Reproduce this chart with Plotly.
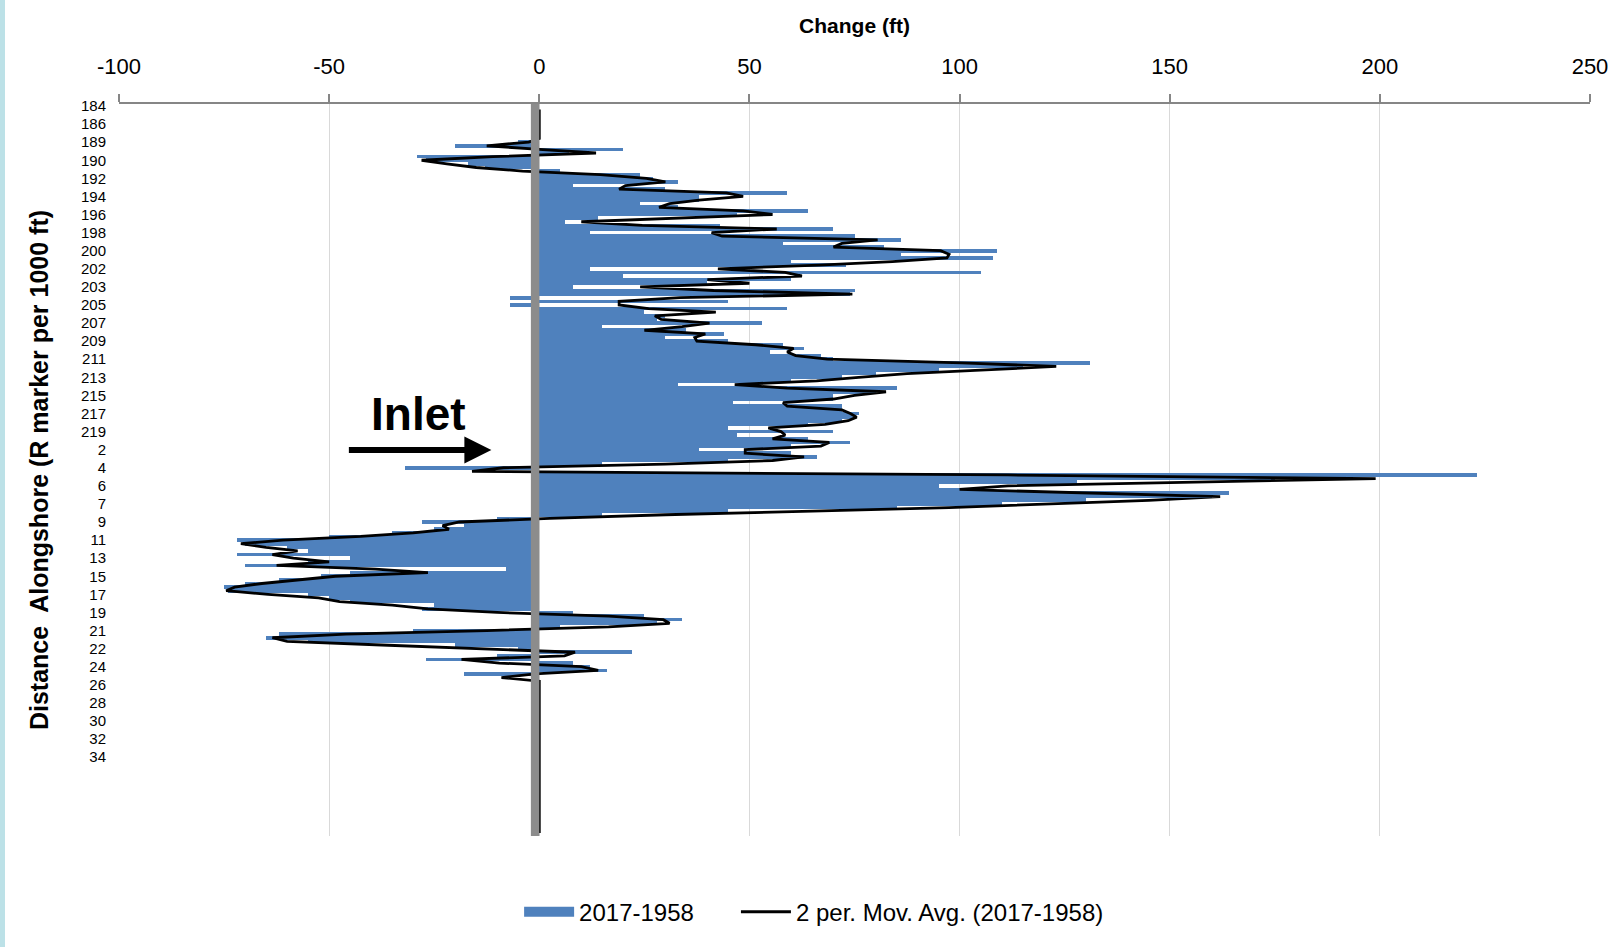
import plotly.graph_objects as go
import pandas as pd

# ---- data ----
tick_labels = ["184", "186", "189", "190", "192", "194", "196", "198", "200", "202",
               "203", "205", "207", "209", "211", "213", "215", "217", "219", "2",
               "4", "6", "7", "9", "11", "13", "15", "17", "19", "21",
               "22", "24", "26", "28", "30", "32", "34"]
tick_rows = list(range(0, 181, 5))

x_tick_vals = [-100, -50, 0, 50, 100, 150, 200, 250]
x_tick_text = ["-100", "-50", "0", "50", "100", "150", "200", "250"]

lead_zero_rows = 10
tail_zero_rows = 44
change_ft = [
    -5, -20, 20, 7, -29, -27, -17, -13, 5, 24,            # rows 10-19
    27, 33, 8, 30, 59, 38, 38, 24, 33, 64,                # rows 20-29
    47, 14, 6, 43, 70, 12, 75, 86, 58, 82,                # rows 30-39
    109, 86, 108, 60, 73, 12, 105, 20, 60, 40,            # rows 40-49
    8, 75, 74, -7, 45, -7, 59, 25, 30, 28,                # rows 50-59
    53, 15, 35, 44, 30, 45, 58, 63, 55, 67,               # rows 60-69
    70, 131, 115, 95, 80, 72, 60, 33, 85, 80,             # rows 70-79
    70, 70, 46, 72, 72, 76, 75, 72, 64, 45,               # rows 80-89
    70, 47, 64, 74, 60, 38, 60, 66, 45, 15,               # rows 90-99
    -32, 0, 223, 175, 128, 95, 105, 164, 160, 130,        # rows 100-109
    110, 85, 45, 15, -10, -28, -18, -25, -35, -50,        # rows 110-119
    -72, -70, -60, -55, -72, -45, -55, -70, -8, -45,      # rows 120-129
    -52, -62, -70, -75, -74, -55, -50, -45, -25, -28,     # rows 130-139
    8, 25, 34, 28, 5, -30, -62, -65, -55, -20,            # rows 140-149
    -5, 22, -10, -27, 8, 12, 16, -18,                     # rows 150-157
]

values = [0] * lead_zero_rows + change_ft + [0] * tail_zero_rows
rows = list(range(len(values)))
mov_avg = pd.Series(values, dtype=float).rolling(2).mean()

BLUE = "#4F81BD"
FONT = "Liberation Sans, Arial, sans-serif"

fig = go.Figure()
fig.add_trace(go.Bar(
    x=values, y=rows, orientation="h", width=1,
    marker=dict(color=BLUE, line=dict(width=0)),
    name="2017-1958", showlegend=False, hoverinfo="x+y",
))
# legend proxy for the bar series (wide blue box)
fig.add_trace(go.Scatter(
    x=[None], y=[None], mode="lines", name="2017-1958",
    line=dict(color=BLUE, width=14), showlegend=True, legend="legend",
))
fig.add_trace(go.Scatter(
    x=mov_avg, y=rows, mode="lines", name="2 per. Mov. Avg. (2017-1958)",
    line=dict(color="black", width=2.8), legend="legend2",
))

legend_common = dict(
    orientation="h", xanchor="left", y=-0.104, yanchor="middle",
    font=dict(size=24, family=FONT), itemwidth=50, bgcolor="rgba(0,0,0,0)",
)

fig.update_layout(
    width=1622, height=947,
    margin=dict(l=119, r=32, t=104, b=111),
    paper_bgcolor="white", plot_bgcolor="white",
    bargap=0,
    font=dict(family=FONT, color="black"),
    showlegend=True,
    legend=dict(x=0.272, **legend_common),
    legend2=dict(x=0.4194, **legend_common),
    xaxis=dict(
        side="top", range=[-100, 250], tickmode="array",
        tickvals=x_tick_vals, ticktext=x_tick_text,
        showgrid=True, gridcolor="#D9D9D9", gridwidth=1,
        showline=True, linecolor="#868686", linewidth=2,
        ticks="outside", ticklen=8, tickcolor="#868686", tickwidth=1.5,
        tickfont=dict(size=22, family=FONT), zeroline=False,
        ticklabelstandoff=11,
        title=dict(text="<b>Change (ft)</b>", font=dict(size=21, family=FONT), standoff=15),
        automargin=False,
    ),
    yaxis=dict(
        range=[201.8, -0.55], tickmode="array", tickvals=tick_rows, ticktext=tick_labels,
        tickfont=dict(size=15, family=FONT), showgrid=False, zeroline=False,
        showline=False, ticks="", ticklabelstandoff=12,
        title=dict(text="<b>Distance  Alongshore (R marker per 1000 ft)</b>",
                   font=dict(size=25, family=FONT), standoff=25),
        automargin=False,
    ),
    shapes=[
        # thick grey vertical axis line at zero
        dict(type="rect", xref="x", yref="paper", x0=-2, x1=0, y0=0, y1=1,
             fillcolor="#8C8C8C", line=dict(width=0), layer="above"),
        # light-blue strip at the left edge of the page
        dict(type="rect", xref="paper", yref="paper", x0=-0.0809, x1=-0.0775,
             y0=-0.16, y1=1.15, fillcolor="#BCE1E7", line=dict(width=0), layer="below"),
    ],
    annotations=[
        dict(text="<b>Inlet</b>", xref="x", yref="y", x=-28.8, y=85.2,
             showarrow=False, font=dict(size=46, family=FONT, color="black")),
        dict(text="", xref="x", yref="y", x=-11.4, y=95.1, ax=-144, ay=0,
             showarrow=True, arrowhead=2, arrowsize=0.9, arrowwidth=6, arrowcolor="black"),
    ],
)

fig.write_html("out.html", config={"displayModeBar": False},
               post_script="document.body.style.margin='0';")
